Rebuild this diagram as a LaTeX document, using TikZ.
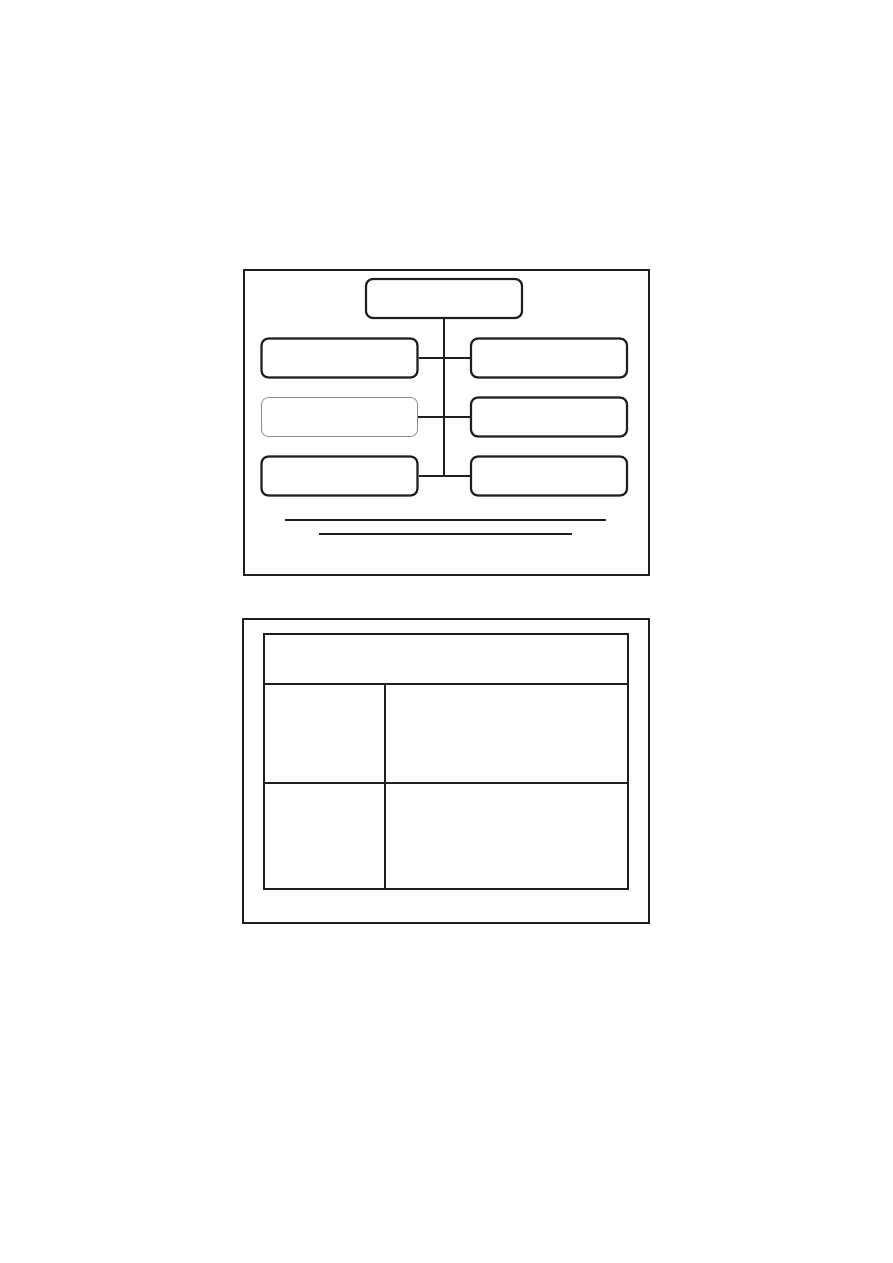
\documentclass[tikz,border=0pt]{standalone}
\begin{document}
\begin{tikzpicture}[x=0.5pt,y=-0.5pt,
  ink/.style={draw=black!88},
  rbox/.style={ink, line width=1.1pt, rounded corners=3.5pt, minimum width=78pt, minimum height=19.5pt, inner sep=0pt},
  fadedbox/.style={rbox, draw=black!45, line width=0.4pt},
  thinline/.style={ink, line width=0.55pt},
  link/.style={ink, line width=1.4pt},
  framebox/.style={ink, line width=0.6pt}]
\useasboundingbox (0,0) rectangle (893,1263);
% frame 1
\coordinate (f1a) at (244,270);
\coordinate (f1b) at (649,575);
\draw[framebox] (f1a) rectangle (f1b);
\draw[ink, line width=1.3pt] (649,270) -- (649,575) -- (244,575);
% boxes
\node[rbox] (top) at (444,298.5) {};
\node[rbox] (l1) at (339.5,358) {};
\node[fadedbox] (l2) at (339.5,417) {};
\node[rbox] (l3) at (339.5,476) {};
\node[rbox] (r1) at (549,358) {};
\node[rbox] (r2) at (549,417) {};
\node[rbox] (r3) at (549,476) {};
\coordinate (vbot) at (444,476);
\draw[thinline] (top.south) -- (vbot);
\draw[link] (l1.east) -- (r1.west);
\draw[link] (l2.east) -- (r2.west);
\draw[link] (l3.east) -- (r3.west);
% underlines
\coordinate (u1a) at (285,520); \coordinate (u1b) at (606,520);
\coordinate (u2a) at (319,534); \coordinate (u2b) at (572,534);
\draw[thinline] (u1a) -- (u1b);
\draw[thinline] (u2a) -- (u2b);
% frame 2
\draw[framebox] (243,619) rectangle (649,923);
\draw[ink, line width=1.3pt] (649,619) -- (649,923) -- (243,923);
% table
\draw[ink, line width=1.4pt] (264,634) rectangle (628,889);
\draw[thinline, line width=0.75pt] (264,684) -- (628,684);
\draw[thinline, line width=0.75pt] (264,783) -- (628,783);
\draw[thinline, line width=0.75pt] (385,684) -- (385,889);
\end{tikzpicture}
\end{document}
